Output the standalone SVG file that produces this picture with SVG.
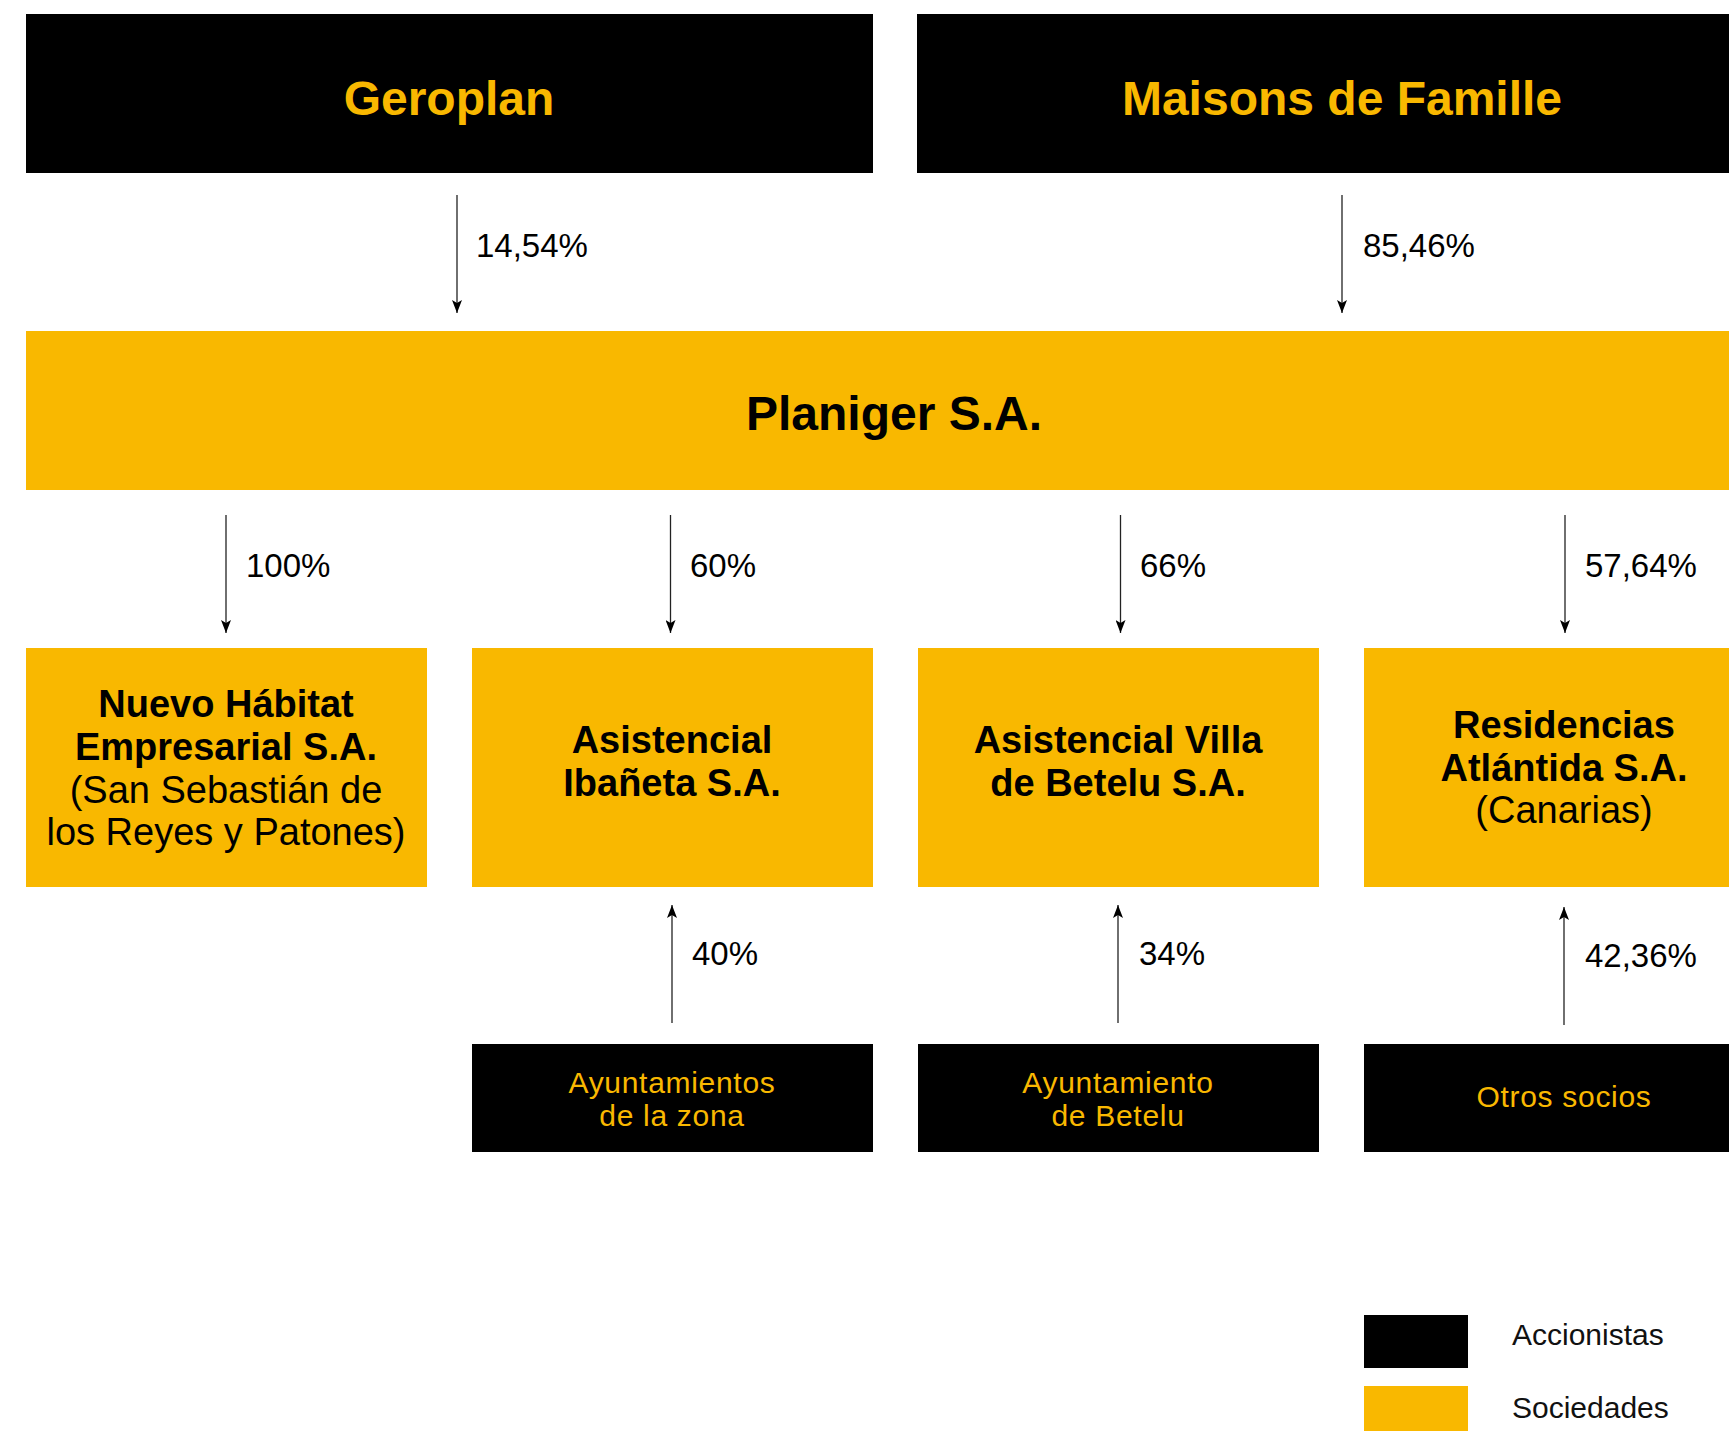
<svg xmlns="http://www.w3.org/2000/svg" width="1729" height="1431" viewBox="0 0 1729 1431">
<style>
.blk{fill:#000}
.yel{fill:#F9B800}
.t{font-family:"Liberation Sans",Arial,sans-serif;text-anchor:middle}
.hd{font-size:48px;font-weight:700}
.gold{fill:#F9B800}
.dark{fill:#000}
.cb{font-size:38px;font-weight:700}
.cr{font-size:38px;font-weight:400}
.sm{font-size:30px;font-weight:400;letter-spacing:0.7px}
.pct{font-family:"Liberation Sans",Arial,sans-serif;font-size:33px;fill:#000}
.lg{font-family:"Liberation Sans",Arial,sans-serif;font-size:30px;fill:#111}
.ln{stroke:#222;stroke-width:1.3;fill:none}
</style>
<defs>
<marker id="ah" markerUnits="userSpaceOnUse" markerWidth="14" markerHeight="10" refX="13" refY="5" orient="auto" viewBox="0 0 14 10">
<path d="M0,0 L13,5 L0,10 L3,5 Z" fill="#000"/>
</marker>
</defs>
<rect width="1729" height="1431" fill="#fff"/>

<g id="geroplan">
<rect class="blk" x="26" y="14" width="847" height="159"/>
<text class="t hd gold" x="449" y="115">Geroplan</text>
</g>
<g id="maisons">
<rect class="blk" x="917" y="14" width="850" height="159"/>
<text class="t hd gold" x="1342" y="115">Maisons de Famille</text>
</g>
<g id="planiger">
<rect class="yel" x="26" y="331" width="1740" height="159"/>
<text class="t hd dark" x="894" y="430">Planiger S.A.</text>
</g>
<g id="nuevo">
<rect class="yel" x="26" y="648" width="401" height="239"/>
<text class="t cb dark" x="226" y="717">Nuevo Hábitat</text>
<text class="t cb dark" x="226" y="760">Empresarial S.A.</text>
<text class="t cr dark" x="226" y="803">(San Sebastián de</text>
<text class="t cr dark" x="226" y="845">los Reyes y Patones)</text>
</g>
<g id="ibaneta">
<rect class="yel" x="472" y="648" width="401" height="239"/>
<text class="t cb dark" x="672" y="753">Asistencial</text>
<text class="t cb dark" x="672" y="796">Ibañeta S.A.</text>
</g>
<g id="betelu">
<rect class="yel" x="918" y="648" width="401" height="239"/>
<text class="t cb dark" x="1118" y="753">Asistencial Villa</text>
<text class="t cb dark" x="1118" y="796">de Betelu S.A.</text>
</g>
<g id="atlantida">
<rect class="yel" x="1364" y="648" width="401" height="239"/>
<text class="t cb dark" x="1564" y="738">Residencias</text>
<text class="t cb dark" x="1564" y="781">Atlántida S.A.</text>
<text class="t cr dark" x="1564" y="823">(Canarias)</text>
</g>
<g id="ayuntamientos">
<rect class="blk" x="472" y="1044" width="401" height="108"/>
<text class="t sm gold" x="672" y="1093">Ayuntamientos</text>
<text class="t sm gold" x="672" y="1126">de la zona</text>
</g>
<g id="ayto-betelu">
<rect class="blk" x="918" y="1044" width="401" height="108"/>
<text class="t sm gold" x="1118" y="1093">Ayuntamiento</text>
<text class="t sm gold" x="1118" y="1126">de Betelu</text>
</g>
<g id="otros">
<rect class="blk" x="1364" y="1044" width="401" height="108"/>
<text class="t sm gold" x="1564" y="1107">Otros socios</text>
</g>

<g id="connectors">
<line class="ln" x1="457" y1="195" x2="457" y2="313" marker-end="url(#ah)"/>
<line class="ln" x1="1342" y1="195" x2="1342" y2="313" marker-end="url(#ah)"/>
<line class="ln" x1="226" y1="515" x2="226" y2="633" marker-end="url(#ah)"/>
<line class="ln" x1="670.5" y1="515" x2="670.5" y2="633" marker-end="url(#ah)"/>
<line class="ln" x1="1120.5" y1="515" x2="1120.5" y2="633" marker-end="url(#ah)"/>
<line class="ln" x1="1565" y1="515" x2="1565" y2="633" marker-end="url(#ah)"/>
<line class="ln" x1="672" y1="1023" x2="672" y2="905" marker-end="url(#ah)"/>
<line class="ln" x1="1118" y1="1023" x2="1118" y2="905" marker-end="url(#ah)"/>
<line class="ln" x1="1564" y1="1025" x2="1564" y2="907" marker-end="url(#ah)"/>
<text class="pct" x="476" y="257">14,54%</text>
<text class="pct" x="1363" y="257">85,46%</text>
<text class="pct" x="246" y="577">100%</text>
<text class="pct" x="690" y="577">60%</text>
<text class="pct" x="1140" y="577">66%</text>
<text class="pct" x="1585" y="577">57,64%</text>
<text class="pct" x="692" y="965">40%</text>
<text class="pct" x="1139" y="965">34%</text>
<text class="pct" x="1585" y="967">42,36%</text>
</g>

<g id="legend">
<rect class="blk" x="1364" y="1315" width="104" height="53"/>
<rect class="yel" x="1364" y="1386" width="104" height="50"/>
<text class="lg" x="1512" y="1345">Accionistas</text>
<text class="lg" x="1512" y="1418">Sociedades</text>
</g>
</svg>
